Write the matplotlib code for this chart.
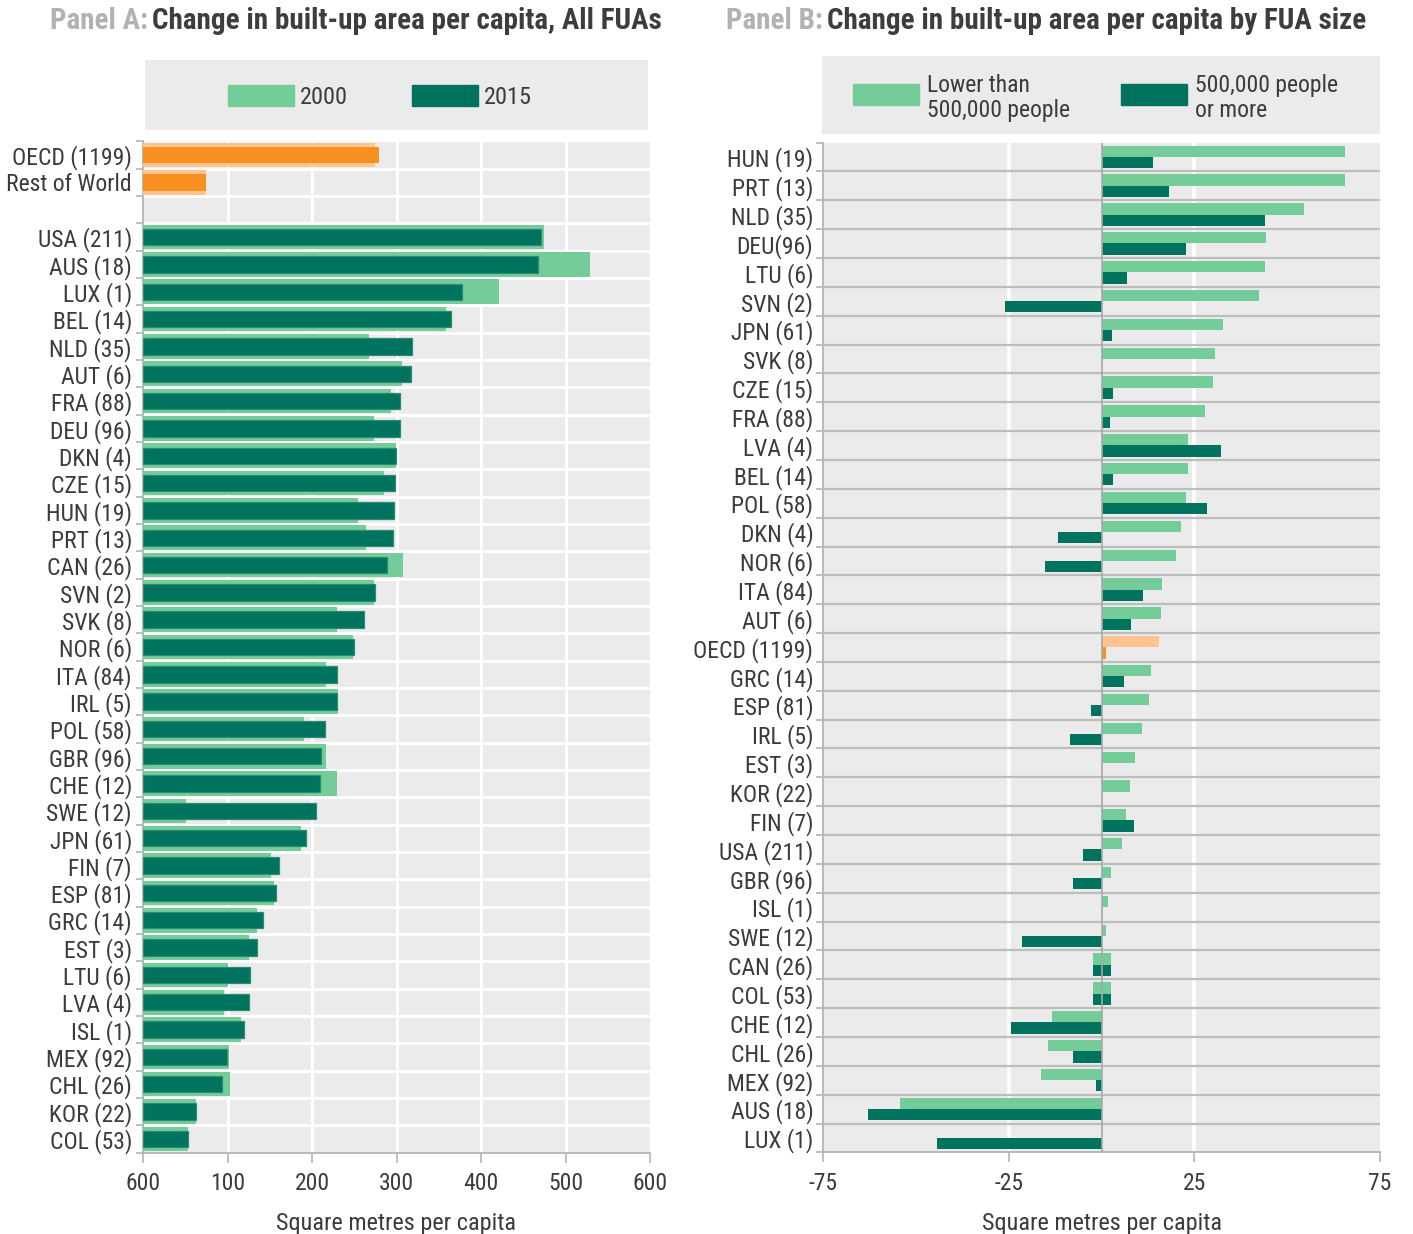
import matplotlib
matplotlib.use("Agg")
import matplotlib.pyplot as plt
from matplotlib import font_manager as fm
from matplotlib.patches import Rectangle
import numpy as np

# ---------------- fonts ----------------
avail = {f.name for f in fm.fontManager.ttflist}
cands = ['Liberation Sans Narrow', 'DejaVu Sans Condensed', 'Roboto Condensed',
         'Open Sans Condensed', 'Roboto', 'Liberation Sans', 'DejaVu Sans']
FONT = next(c for c in cands if c in avail)
NARROW = FONT in ('Liberation Sans Narrow', 'DejaVu Sans Condensed', 'Roboto Condensed', 'Open Sans Condensed')
plt.rcParams['font.family'] = [FONT, 'DejaVu Sans']
FS = 17 if NARROW else 13.5
TFS = 21 if NARROW else 15.5

# ---------------- data: Panel A ----------------
a_agg_labels = ["OECD (1199)", "Rest of World"]
a_agg_2000 = [274, 74]
a_agg_2015 = [279, 74]

a_labels = ["USA (211)", "AUS (18)", "LUX (1)", "BEL (14)", "NLD (35)", "AUT (6)",
            "FRA (88)", "DEU (96)", "DKN (4)", "CZE (15)", "HUN (19)", "PRT (13)",
            "CAN (26)", "SVN (2)", "SVK (8)", "NOR (6)", "ITA (84)", "IRL (5)",
            "POL (58)", "GBR (96)", "CHE (12)", "SWE (12)", "JPN (61)", "FIN (7)",
            "ESP (81)", "GRC (14)", "EST (3)", "LTU (6)", "LVA (4)", "ISL (1)",
            "MEX (92)", "CHL (26)", "KOR (22)", "COL (53)"]
a_2000 = [474, 529, 421, 359, 268, 307, 293, 273, 299, 285, 255, 264,
          308, 273, 229, 249, 216, 231, 190, 216, 230, 51, 187, 151,
          155, 135, 126, 100, 96, 116, 102, 103, 63, 53]
a_2015 = [471, 468, 377, 365, 318, 317, 304, 304, 299, 298, 297, 296,
          289, 274, 262, 250, 230, 229, 215, 211, 210, 205, 193, 161,
          157, 142, 135, 127, 125, 120, 99, 94, 63, 53]
a_xticks = [0, 100, 200, 300, 400, 500, 600]
a_xticklabels = ["600", "100", "200", "300", "400", "500", "600"]
a_legend = ["2000", "2015"]

# ---------------- data: Panel B ----------------
b_labels = ["HUN (19)", "PRT (13)", "NLD (35)", "DEU(96)", "LTU (6)", "SVN (2)",
            "JPN (61)", "SVK (8)", "CZE (15)", "FRA (88)", "LVA (4)", "BEL (14)",
            "POL (58)", "DKN (4)", "NOR (6)", "ITA (84)", "AUT (6)", "OECD (1199)",
            "GRC (14)", "ESP (81)", "IRL (5)", "EST (3)", "KOR (22)", "FIN (7)",
            "USA (211)", "GBR (96)", "ISL (1)", "SWE (12)", "CAN (26)", "COL (53)",
            "CHE (12)", "CHL (26)", "MEX (92)", "AUS (18)", "LUX (1)"]
b_small = [65.7, 65.7, 54.4, 44.4, 44.1, 42.4, 32.8, 30.5, 30.1, 28.0, 23.4, 23.3,
           22.8, 21.5, 20.1, 16.3, 16.1, 15.4, 13.2, 12.8, 10.9, 8.9, 7.6, 6.7,
           5.6, 2.6, 1.8, 1.3, 2.6, 2.6, -13.3, -14.5, -16.3, -54.3, 0.0]
b_large = [14.0, 18.3, 43.9, 22.7, 7.0, -25.9, 2.8, 0.0, 3.0, 2.2, 32.2, 3.0,
           28.3, -11.6, -15.2, 11.1, 8.0, 1.3, 6.0, -2.9, -8.4, 0.0, 0.0, 8.8,
           -5.0, -7.7, 0.0, -21.3, 2.6, 2.6, -24.3, -7.7, -1.5, -63.0, -44.3]
# start of the bar (bars drawn as ranges for CAN and COL)
b_small_base = [0] * 28 + [-2.4, -2.4] + [0] * 5
b_large_base = [0] * 28 + [-2.4, -2.4] + [0] * 5
b_highlight = "OECD (1199)"
b_xticks = [-75, -25, 25, 75]
b_xticklabels = ["-75", "-25", "25", "75"]
b_legend = ["Lower than\n500,000 people", "500,000 people\nor more"]

# ---------------- styles ----------------
LIGHT = "#74cc98"
DARK = "#00735f"
ORANGE = "#f8901f"
LORANGE = "#ffc490"
BG = "#ebebeb"
TXT = "#3b3b3b"
AXC = "#b4b4b4"

W, H = 1413, 1234
fig = plt.figure(figsize=(W / 100, H / 100), dpi=100)
fig.patch.set_facecolor("white")


def rect(x0, y0, x1, y1):
    return [x0 / W, 1 - y1 / H, (x1 - x0) / W, (y1 - y0) / H]


# ================= Panel A =================
axA = fig.add_axes(rect(143, 141.5, 650, 1152.5))
axA.set_facecolor(BG)
n_agg = len(a_agg_labels)
nA = n_agg + 1 + len(a_labels)
agg_pos = np.arange(n_agg)
cty_pos = np.arange(n_agg + 1, nA)

axA.barh(agg_pos, a_agg_2000, height=0.9, color=LORANGE, zorder=3)
axA.barh(agg_pos, a_agg_2015, height=0.6, color=ORANGE, zorder=4)
axA.barh(cty_pos, a_2000, height=0.9, color=LIGHT, zorder=3)
axA.barh(cty_pos, a_2015, height=0.6, color=DARK, edgecolor="#2c8c70",
         linewidth=0.9, zorder=4)

axA.set_xlim(0, 600)
axA.set_ylim(nA - 0.5, -0.5)
for x in a_xticks[1:-1]:
    axA.axvline(x, color="white", lw=2.2, zorder=1)
for b in np.arange(0.5, nA - 1, 1.0):
    axA.axhline(b, color="white", lw=2.2, zorder=2)

axA.set_xticks(a_xticks)
axA.set_xticklabels(a_xticklabels)
axA.set_yticks(list(agg_pos) + list(cty_pos))
axA.set_yticklabels(a_agg_labels + a_labels)
axA.set_yticks(np.arange(-0.5, nA, 1.0), minor=True)
axA.tick_params(axis="y", which="major", length=0, pad=8, labelsize=FS, labelcolor=TXT)
axA.tick_params(axis="y", which="minor", length=5, width=1.2, color=AXC)
axA.tick_params(axis="x", which="major", length=7, width=1.2, color=AXC,
                labelsize=FS, labelcolor=TXT, pad=7)
for s in ["top", "right"]:
    axA.spines[s].set_visible(False)
for s in ["left", "bottom"]:
    axA.spines[s].set_color(AXC)
    axA.spines[s].set_linewidth(1.3)
axA.set_xlabel("Square metres per capita", fontsize=FS + 0.5, color=TXT, labelpad=12)

# ================= Panel B =================
axB = fig.add_axes(rect(823, 142.6, 1380, 1152.4))
axB.set_facecolor(BG)
nB = len(b_labels)
pos = np.arange(nB)
small_col = [LORANGE if l == b_highlight else LIGHT for l in b_labels]
large_col = [ORANGE if l == b_highlight else DARK for l in b_labels]
axB.barh(pos - 0.2, np.array(b_small) - np.array(b_small_base), left=b_small_base,
         height=0.39, color=small_col, zorder=3)
axB.barh(pos + 0.19, np.array(b_large) - np.array(b_large_base), left=b_large_base,
         height=0.39, color=large_col, zorder=3)
axB.set_xlim(-75, 75)
axB.set_ylim(nB - 0.5, -0.5)
for x in b_xticks[1:-1]:
    axB.axvline(x, color="white", lw=2.6, zorder=1)
axB.axvline(0, color="#a8a8a8", lw=1.2, zorder=4)
for b in np.arange(0.5, nB - 1, 1.0):
    axB.axhline(b, color="#bdbdbd", lw=1.6, zorder=2)
axB.set_xticks(b_xticks)
axB.set_xticklabels(b_xticklabels)
axB.set_yticks(pos)
axB.set_yticklabels(b_labels)
axB.set_yticks(np.arange(-0.5, nB, 1.0), minor=True)
axB.tick_params(axis="y", which="major", length=0, pad=7, labelsize=FS, labelcolor=TXT)
axB.tick_params(axis="y", which="minor", length=5, width=1.2, color=AXC)
axB.tick_params(axis="x", which="major", length=7, width=1.2, color=AXC,
                labelsize=FS, labelcolor=TXT, pad=7)
for s in ["top", "right"]:
    axB.spines[s].set_visible(False)
for s in ["left", "bottom"]:
    axB.spines[s].set_color(AXC)
    axB.spines[s].set_linewidth(1.3)
axB.set_xlabel("Square metres per capita", fontsize=FS + 0.5, color=TXT, labelpad=12)

# ================= Legends =================
def legend_box(x0, y0, x1, y1):
    ax = fig.add_axes(rect(x0, y0, x1, y1))
    ax.set_xlim(x0, x1)
    ax.set_ylim(y1, y0)
    ax.set_facecolor(BG)
    ax.set_xticks([])
    ax.set_yticks([])
    for s in ax.spines.values():
        s.set_visible(False)
    return ax

lA = legend_box(145, 60, 648, 130)
for (px, tx), lab, col in zip([(228, 300), (412, 484)], a_legend, [LIGHT, DARK]):
    lA.add_patch(Rectangle((px, 85), 66, 21, color=col))
    lA.text(tx, 97, lab, fontsize=FS + 0.5, color=TXT, va="center", ha="left")

lB = legend_box(822, 56, 1380, 134)
for (px, tx), lab, col in zip([(853, 927), (1121, 1195)], b_legend, [LIGHT, DARK]):
    lB.add_patch(Rectangle((px, 84), 66, 21, color=col))
    lB.text(tx, 98, lab, fontsize=FS, color=TXT, va="center", ha="left",
            linespacing=1.15)

# ================= Titles =================
def title(x, y, pre, main):
    t = fig.text(x / W, 1 - y / H, pre, fontsize=TFS, fontweight="bold",
                 color="#b2b2b2", va="center", ha="left")
    fig.canvas.draw()
    bb = t.get_window_extent()
    fig.text((bb.x1 + 4) / W, 1 - y / H, main, fontsize=TFS, fontweight="bold",
             color="#3d3d3d", va="center", ha="left")

title(50, 21, "Panel A:", "Change in built-up area per capita, All FUAs")
title(726, 21, "Panel B:", "Change in built-up area per capita by FUA size")

fig.savefig("out.png", dpi=100)
